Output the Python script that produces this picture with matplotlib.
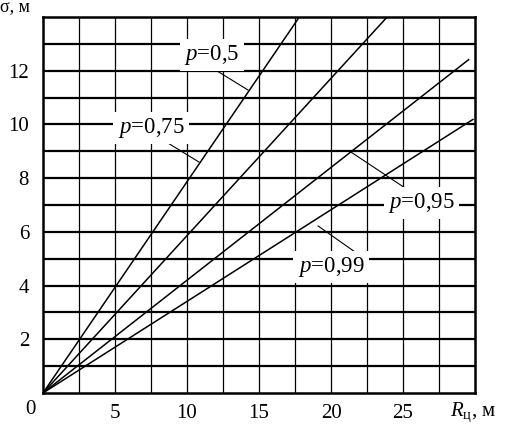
import matplotlib
matplotlib.use("Agg")
import matplotlib.pyplot as plt

plt.rcParams['font.family'] = ['Liberation Serif', 'DejaVu Serif']
plt.rcParams['mathtext.fontset'] = 'custom'
plt.rcParams['mathtext.rm'] = 'Liberation Serif'
plt.rcParams['mathtext.it'] = 'Liberation Serif:italic'

# data: line endpoints (R, sigma)
labels = ["0,5", "0,75", "0,95", "0,99"]
line_R = [[0, 17.8], [0, 23.9], [0, 29.6], [0, 29.9]]
line_sigma = [[0, 14.0], [0, 14.0], [0, 12.43], [0, 10.2]]
# label centres and leader lines
label_pos = [(11.74, 12.58), (7.5, 9.87), (26.3, 7.07), (20.0, 4.69)]
leaders = [((11.88, 12.06), (14.24, 11.28)),
           ((8.33, 9.42), (10.83, 8.60)),
           ((21.39, 8.97), (25.35, 7.56)),
           ((19.10, 6.22), (21.67, 5.25))]
xticks = [5, 10, 15, 20, 25]
yticks = [2, 4, 6, 8, 10, 12]

W, H = 508, 424
fig = plt.figure(figsize=(W / 100, H / 100), dpi=100)
ax = fig.add_axes([43 / W, (H - 393) / H, (475 - 43) / W, (393 - 17) / H])
ax.set_xlim(0, 30)
ax.set_ylim(0, 14)

# grid
for i in range(1, 12):
    ax.axvline(i * 2.5, color='black', lw=0.9, zorder=1)
for j in range(1, 14):
    ax.axhline(j, color='black', lw=1.6, zorder=1)

for s in ax.spines.values():
    s.set_linewidth(1.8)

for R, sg in zip(line_R, line_sigma):
    ax.plot(R, sg, color='black', lw=1.1, zorder=3, solid_capstyle='butt')

for (a, b) in leaders:
    ax.plot([a[0], b[0]], [a[1], b[1]], color='black', lw=0.8, zorder=3)

for lab, (x, y) in zip(labels, label_pos):
    ax.text(x, y, "$p$=" + lab, fontsize=16.5, ha='center', va='center', zorder=4,
            bbox=dict(facecolor='white', edgecolor='none', pad=3))

ax.set_xticks(xticks)
ax.set_xticklabels([str(v) for v in xticks], fontsize=15)
ax.set_yticks(yticks)
ax.set_yticklabels([str(v) for v in yticks], fontsize=15)
ax.tick_params(length=0, pad=8)
ax.tick_params(axis='y', pad=10)

fig.text(30 / W, 1 - 410 / H, "0", fontsize=15, ha='center', va='center')
fig.text(0 / W, 1 - 7 / H, "σ, м", fontsize=13, ha='left', va='center')
fig.text(450 / W, 1 - 412 / H, r"$R_{\mathrm{ц}}$, м", fontsize=15, ha='left', va='center')

fig.savefig("out.png", dpi=100)
